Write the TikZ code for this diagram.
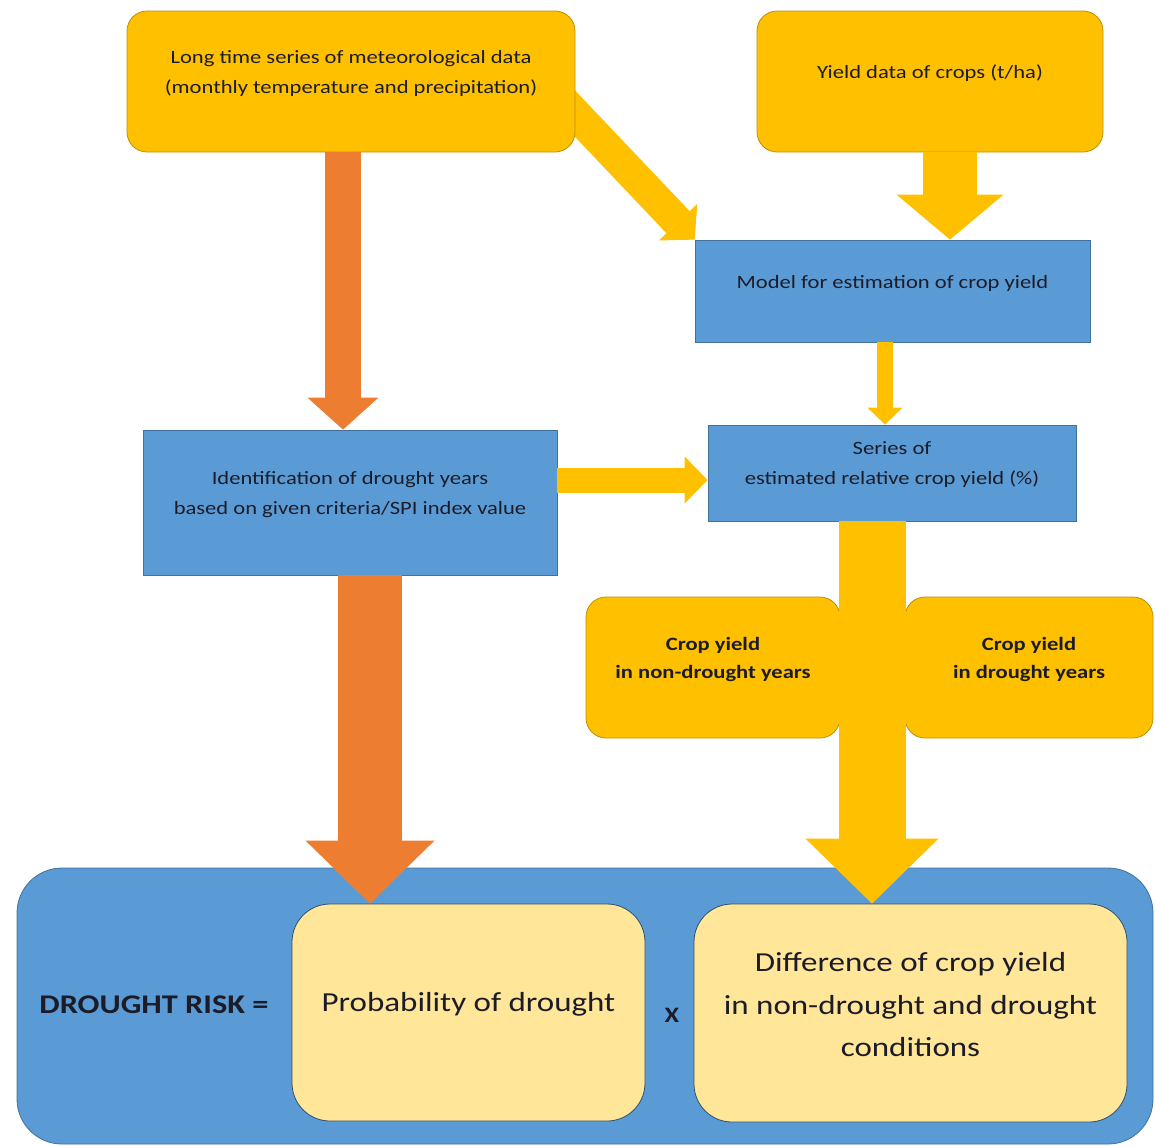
\documentclass[tikz,border=0pt]{standalone}
\usepackage{fontspec}
\setmainfont{Carlito}[FakeStretch=1.2]
\usepackage{tikz}
\usetikzlibrary{arrows.meta,backgrounds}

\definecolor{boxgold}{HTML}{FFC000}
\definecolor{golddark}{HTML}{BF9000}
\definecolor{boxblue}{HTML}{5B9BD5}
\definecolor{bluedark}{HTML}{41719C}
\definecolor{arrorange}{HTML}{ED7D31}
\definecolor{paleyellow}{HTML}{FFE699}
\definecolor{txt}{HTML}{1C1C28}

\tikzset{
  goldbox/.style={draw=golddark, fill=boxgold, rounded corners=20pt, line width=0.8pt, inner sep=0pt},
  bluebox/.style={draw=bluedark, fill=boxblue, line width=0.8pt, inner sep=0pt},
  palebox/.style={draw=bluedark!70!black, fill=paleyellow, rounded corners=38pt, line width=0.8pt, inner sep=0pt},
  boxtext/.style={align=center, text=txt, font=\fontsize{18.8}{30}\selectfont, yshift=8pt},
  boldtext/.style={boxtext, font=\fontsize{18.8}{28}\selectfont\bfseries},
  bigtext/.style={boxtext, font=\fontsize{27.5}{42.5}\selectfont},
  fat/.style n args={3}{line width=#1, -{Triangle[length=#2, width=#3, line width=0pt]}},
}

\begin{document}
\begin{tikzpicture}[x=1pt,y=-1pt]
\useasboundingbox (0,0) rectangle (1155,1146);

\node[goldbox, minimum width=448pt, minimum height=141pt,
  label={[boxtext]center:Long time series of meteorological data\\(monthly temperature and precipitation)}] (met) at (351,81.5) {};
\node[goldbox, minimum width=346pt, minimum height=141pt,
  label={[boxtext]center:Yield data of crops (t/ha)}] (yield) at (930,81.5) {};
\node[bluebox, minimum width=395pt, minimum height=102pt,
  label={[boxtext]center:Model for estimation of crop yield}] (model) at (892.5,291) {};
\node[bluebox, minimum width=368pt, minimum height=96pt,
  label={[boxtext]center:Series of\\estimated relative crop yield (\%)}] (series) at (892,473) {};
\node[bluebox, minimum width=414pt, minimum height=145pt,
  label={[boxtext]center:Identification of drought years\\based on given criteria/SPI index value}] (ident) at (350,502.5) {};

\node[goldbox, minimum width=254pt, minimum height=141pt,
  label={[boldtext]center:Crop yield\\in non-drought years}] (nondry) at (713,667.5) {};
\node[goldbox, minimum width=248pt, minimum height=141pt,
  label={[boldtext]center:Crop yield\\in drought years}] (dry) at (1029,667.5) {};

\node[draw=bluedark, fill=boxblue, rounded corners=45pt, line width=0.8pt, inner sep=0pt,
  minimum width=1136pt, minimum height=276pt] (panel) at (585,1006) {};
\node[palebox, minimum width=353pt, minimum height=217pt,
  label={[bigtext]center:Probability of drought}] (prob) at (468.5,1012.5) {};
\node[palebox, minimum width=433pt, minimum height=218pt,
  label={[bigtext]center:Difference of crop yield\\in non-drought and drought\\conditions}] (diff) at (910.5,1013) {};
\node[text=txt, font=\fontsize{27}{34}\selectfont\bfseries] (risk) at (154,1005) {DROUGHT RISK =};
\node[text=txt, font=\fontsize{22}{30}\selectfont\bfseries] (times) at (672,1015) {X};

\begin{pgfonlayer}{background}
\draw[boxgold, fat={32pt}{24pt}{53pt}] ([xshift=-20pt,yshift=-11.5pt]met.east) -- (model.north west);
\end{pgfonlayer}

\draw[arrorange, fat={36pt}{32pt}{71pt}] ([xshift=-8pt]met.south) -- ([xshift=-8pt]met.south |- ident.north);
\draw[arrorange, fat={64pt}{63pt}{129pt}] ([xshift=20pt]ident.south) -- ([xshift=20pt]ident.south |- prob.north);
\draw[boxgold, fat={54pt}{45pt}{107pt}] ([xshift=20pt]yield.south) -- ([xshift=20pt]yield.south |- model.north);
\draw[boxgold, fat={16pt}{17pt}{35pt}] ([xshift=-7.5pt]model.south) -- ([xshift=-7.5pt]model.south |- series.north);
\draw[boxgold, fat={25pt}{23pt}{47pt}] ([yshift=22.5pt]ident.east) -- ([yshift=22.5pt]ident.east -| series.west);
\draw[boxgold, fat={67pt}{65pt}{133pt}] ([xshift=-20pt]series.south) -- ([xshift=-20pt]series.south |- diff.north);
\end{tikzpicture}
\end{document}
